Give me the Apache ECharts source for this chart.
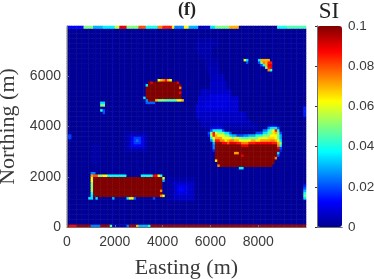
<!DOCTYPE html>
<html><head><meta charset="utf-8">
<style>html,body{margin:0;padding:0;background:#fff}#c{width:374px;height:279px}</style>
<script src="https://cdn.jsdelivr.net/npm/echarts@6/dist/echarts.min.js"></script>
</head><body><div id="c"></div>
<script>
const xTickLabels=[0,2000,4000,6000,8000];
const yTickLabels=[0,2000,4000,6000];
const barTickLabels=[0,0.02,0.04,0.06,0.08,0.1];
const columnCount=100, rowCount=80;
// faint vertical striping of the background, one value per column
const columnBase=[.0005,.001,.0005,.0005,.001,.0005,.0005,.002,.0005,.0005,.001,.0005,.002,.0005,.0005,.002,.0005,.0005,.001,.002,.0005,.0005,.001,.0005,.002,.0005,.0005,.001,.0005,.002,.0005,.0005,.002,.0005,.0005,.001,.0005,.002,.0005,.0005,.001,.0005,.002,.0005,.0005,.0005,.002,.0005,.001,.0005,.002,.0005,.0005,.001,.0005,.002,.0005,.0005,.001,.0005,.002,.0005,.0005,.002,.0005,.0005,.001,.0005,.002,.0005,.0005,.002,.0005,.0005,.001,.002,.0005,.0005,.0005,.002,.0005,.0005,.002,.0005,.001,.0005,.002,.0005,.0005,.002,.0005,.001,.0005,.002,.0005,.0005,.002,.0005,.001,.0005];
// [rowFrom,rowTo,colFrom,colTo,value], row 0 at the bottom
const lowGlows=[
[72,74,54,62,.003],[70,71,54,60,.0035],[67,69,56,60,.003],[64,66,58,62,.003],[61,63,59,63,.004],[58,60,60,65,.005],[55,57,60,66,.006],[52,54,56,68,.006],[49,51,55,71,.0075],[46,48,54,71,.0075],[43,45,54,74,.006],[41,42,56,76,.005],[39,40,56,79,.0035],
[50,52,60,67,.009],[47,49,58,66,.009],
[30,37,24,33,.003],[31,36,26,32,.006],[32,35,27,31,.011],[33,35,28,30,.018],[34,34,29,29,.024],
[10,19,43,53,.003],[11,17,45,52,.006],[13,16,46,50,.009],[14,15,47,48,.012],
[25,32,10,13,.0025],[35,36,0,1,.018],[21,21,10,11,.025],[16,16,99,99,.015],[15,15,99,99,.02],[14,14,99,99,.03],[13,13,99,99,.04],[12,12,99,99,.047],[11,11,99,99,.035],[44,47,99,99,.015]
];
const topEdge=[[79,79,0,6,.012],[79,79,7,10,.05],[79,79,11,14,.03],[79,79,15,19,.036],[79,79,20,21,.056],[79,79,22,24,.09],[79,79,25,29,.05],[79,79,30,32,.08],[79,79,33,37,.04],[79,79,38,39,.075],[79,79,40,43,.085],[79,79,44,44,.06],[79,79,45,48,.025],[79,79,49,50,.062],[79,79,51,54,.03],[79,79,55,59,.005],[79,79,60,61,.035],[79,79,62,67,.05],[79,79,68,71,.07],[79,79,88,91,.04],[79,79,92,99,.045]];
const bottomEdge=[[0,0,0,0,.097],[0,0,1,3,.087],[0,0,4,9,.097],[0,0,10,13,.025],[0,0,14,17,.097],[0,0,18,18,.045],[0,0,19,24,.005],[0,0,25,25,.025],[0,0,26,28,.097],[0,0,29,29,.07],[0,0,30,33,.03],[0,0,34,34,.04],[0,0,35,99,.097]];
const lowerLeftBlock=[
[12,19,11,39,.1],[20,20,11,12,.08],[20,20,13,14,.052],[20,20,15,16,.062],[20,20,17,24,.038],[20,20,31,35,.038],[20,20,36,37,.088],[20,20,38,38,.06],[20,20,39,39,.04],
[20,20,10,10,.072],[18,19,10,10,.062],[14,17,10,10,.052],[13,13,10,10,.04],[12,12,10,10,.035],[11,11,9,10,.035],
[19,19,40,40,.06],[18,18,40,40,.03],[14,14,39,39,.075],[12,12,39,39,.075],[12,12,40,40,.062],
[11,11,12,12,.035],[11,11,19,19,.03],[11,11,25,25,.035],[11,11,26,27,.06],[11,11,28,28,.022],[11,11,36,36,.02]
];
const middleBlock=[
[50,57,34,46,.1],[51,56,33,47,.1],[58,58,38,38,.06],[58,58,39,39,.07],[58,58,40,40,.075],[58,58,41,41,.085],[58,58,42,42,.07],[58,58,43,43,.06],
[57,57,35,35,.09],[57,57,46,46,.09],[56,56,33,33,.035],[55,55,47,47,.075],[53,53,47,47,.088],[51,51,32,32,.035],
[50,50,37,37,.07],[50,50,38,40,.05],[50,50,41,45,.045],[50,50,46,47,.06],[50,50,48,48,.07],[50,50,33,33,.025],[49,49,33,36,.022],
[49,49,14,15,.035],[48,48,14,15,.05],[46,46,14,14,.04],[46,46,15,15,.02],[45,45,15,15,.02]
];
const rightBlock=[
[40,40,61,64,.006],[40,40,84,87,.007],
[39,39,60,64,.01],[39,39,84,84,.025],[39,39,85,87,.035],[39,39,88,88,.02],
[38,38,60,60,.02],[38,38,61,64,.036],[38,38,65,65,.02],[38,38,82,83,.025],[38,38,84,84,.04],[38,38,85,85,.05],[38,38,86,86,.06],[38,38,87,87,.086],[38,38,88,88,.04],
[37,37,59,59,.02],[37,37,60,60,.05],[37,37,61,61,.086],[37,37,62,62,.06],[37,37,63,65,.05],[37,37,66,67,.035],[37,37,68,68,.02],[37,37,79,81,.02],[37,37,82,83,.035],[37,37,84,85,.05],[37,37,86,86,.065],[37,37,87,87,.07],[37,37,88,88,.05],[37,37,89,89,.02],
[36,36,59,59,.015],[36,36,60,60,.055],[36,36,61,61,.085],[36,36,62,62,.07],[36,36,63,65,.06],[36,36,66,67,.05],[36,36,68,68,.035],[36,36,69,70,.03],[36,36,71,73,.02],[36,36,74,75,.025],[36,36,76,78,.03],[36,36,79,81,.04],[36,36,82,84,.05],[36,36,85,87,.062],[36,36,88,88,.05],[36,36,89,89,.03],
[35,35,60,60,.04],[35,35,61,61,.06],[35,35,62,64,.072],[35,35,65,68,.061],[35,35,69,69,.05],[35,35,70,71,.058],[35,35,72,72,.05],[35,35,73,75,.045],[35,35,76,79,.05],[35,35,80,83,.06],[35,35,84,86,.066],[35,35,87,87,.062],[35,35,88,88,.05],[35,35,89,89,.03],
[34,34,60,60,.025],[34,34,61,61,.05],[34,34,62,63,.085],[34,34,64,65,.075],[34,34,66,66,.065],[34,34,67,67,.07],[34,34,68,69,.075],[34,34,70,71,.07],[34,34,72,76,.061],[34,34,77,78,.07],[34,34,79,80,.065],[34,34,81,84,.072],[34,34,85,86,.075],[34,34,87,87,.07],[34,34,88,88,.06],[34,34,89,89,.035],
[33,33,61,61,.03],[33,33,62,64,.097],[33,33,65,66,.088],[33,33,67,67,.08],[33,33,68,70,.09],[33,33,71,72,.085],[33,33,73,75,.075],[33,33,76,78,.085],[33,33,79,85,.088],[33,33,86,87,.085],[33,33,88,88,.07],[33,33,89,89,.05],
[32,32,61,61,.025],[32,32,62,72,.1],[32,32,73,75,.09],[32,32,76,87,.1],[32,32,88,88,.075],[32,32,89,89,.04],
[31,31,61,61,.025],[31,31,62,87,.1],[31,31,88,88,.09],[31,31,89,89,.02],
[30,30,61,61,.015],[30,30,62,88,.1],[30,30,89,89,.015],
[29,29,62,87,.1],[29,29,70,71,.072],[29,29,88,88,.035],
[28,28,62,87,.1],[28,28,73,73,.09],[28,28,88,88,.02],
[27,27,62,86,.1],[27,27,87,87,.075],
[26,26,62,62,.065],[26,26,63,86,.1],[25,25,63,86,.1],[24,24,63,63,.075],[24,24,64,85,.1],[23,23,72,73,.036]
];
const smallSpots=[
[66,66,74,74,.06],[66,66,75,75,.035],[65,65,75,75,.02],
[66,66,80,80,.035],[66,66,81,84,.07],[65,65,80,80,.02],[65,65,81,81,.05],[65,65,82,82,.075],[65,65,83,83,.07],[65,65,84,85,.085],
[64,64,81,81,.02],[64,64,82,82,.04],[64,64,83,83,.07],[64,64,84,85,.09],[63,63,83,83,.05],[63,63,84,84,.085],[63,63,85,85,.088],[62,62,84,84,.075],[62,62,85,85,.04]
];
const jetColors=['#00008f','#0000ff','#007fff','#00ffff','#7fff7f','#ffff00','#ff7f00','#ff0000','#7f0000'];

const cells=[];
for(let c=0;c<columnCount;c++)for(let r=0;r<rowCount;r++)cells.push([c,r,columnBase[c]]);
[lowGlows,topEdge,bottomEdge,lowerLeftBlock,middleBlock,rightBlock,smallSpots].forEach(list=>list.forEach(p=>{
  for(let r=p[0];r<=p[1];r++)for(let c=p[2];c<=p[3];c++)cells[c*rowCount+r][2]=p[4];
}));
const colCats=columnBase.map((_,i)=>i);
const rowCats=Array.from({length:rowCount},(_,i)=>i);

const sans='"Liberation Sans",Arial,sans-serif', serif='"Liberation Serif","Times New Roman",serif';
const ink='#3a3a3a', edge='#707070';
const frame={show:true,lineStyle:{color:edge,width:1}};
const hiddenFrame={axisLine:{show:false},axisTick:{show:false},axisLabel:{show:false},splitLine:{show:false}};
const chart=echarts.init(document.getElementById('c'),null,{renderer:'canvas'});
chart.setOption({
  animation:false,
  backgroundColor:'#fff',
  title:[
    {text:'(f)',left:187,top:1,textAlign:'center',padding:0,textStyle:{fontFamily:serif,fontWeight:'bold',fontSize:18,color:'#222'}},
    {text:'SI',left:329,top:0,textAlign:'center',padding:0,textStyle:{fontFamily:serif,fontWeight:'normal',fontSize:23,color:'#222'}}
  ],
  grid:[{left:67,top:26,width:239,height:201,outerBoundsMode:'none'},{left:317,top:26,width:25,height:201,outerBoundsMode:'none'}],
  xAxis:[
    {type:'category',data:colCats,gridIndex:0,...hiddenFrame,z:1},
    {type:'value',gridIndex:0,position:'bottom',min:0,max:10000,interval:2000,
      name:'Easting (m)',nameLocation:'middle',nameGap:30,nameTextStyle:{fontFamily:serif,fontSize:22,color:ink},
      axisLine:frame,axisTick:{show:true,inside:true,length:2,lineStyle:{color:edge}},splitLine:{show:false},
      axisLabel:{showMaxLabel:false,margin:8,fontFamily:sans,fontSize:14,color:ink,formatter:v=>xTickLabels.includes(v)?String(v):''},z:5},
    {type:'value',gridIndex:1,position:'bottom',min:0,max:1,...hiddenFrame,axisLine:frame,z:10},
    {type:'value',gridIndex:1,position:'top',min:0,max:1,...hiddenFrame,axisLine:frame,z:10}
  ],
  yAxis:[
    {type:'category',data:rowCats,gridIndex:0,...hiddenFrame,z:1},
    {type:'value',gridIndex:0,position:'left',min:0,max:8000,interval:2000,
      name:'Northing (m)',nameLocation:'middle',nameGap:46,nameTextStyle:{fontFamily:serif,fontSize:22,color:ink},
      axisLine:frame,axisTick:{show:true,inside:true,length:2,lineStyle:{color:edge}},splitLine:{show:false},
      axisLabel:{showMaxLabel:false,margin:6,fontFamily:sans,fontSize:14,color:ink,formatter:v=>yTickLabels.includes(v)?String(v):''},z:5},
    {type:'value',gridIndex:1,position:'left',min:0,max:.1,...hiddenFrame,axisLine:frame,z:10},
    {type:'value',gridIndex:1,position:'right',min:0,max:.1,interval:.02,
      axisLine:frame,axisTick:{show:true,inside:true,length:2,lineStyle:{color:'#333'}},splitLine:{show:false},
      axisLabel:{margin:6,fontFamily:sans,fontSize:13.5,color:ink,formatter:v=>{const m=barTickLabels.find(t=>Math.abs(t-v)<1e-6);return m===undefined?'':String(m);}},z:10}
  ],
  visualMap:{type:'continuous',show:true,seriesIndex:0,min:0,max:.1,calculable:false,realtime:false,left:317,top:26,
    itemWidth:25,itemHeight:201,padding:0,text:null,textStyle:{fontSize:0},inRange:{color:jetColors},z:4},
  series:[{type:'heatmap',xAxisIndex:0,yAxisIndex:0,data:cells,progressive:0,animation:false,emphasis:{disabled:true},z:2}]
});
</script></body></html>
